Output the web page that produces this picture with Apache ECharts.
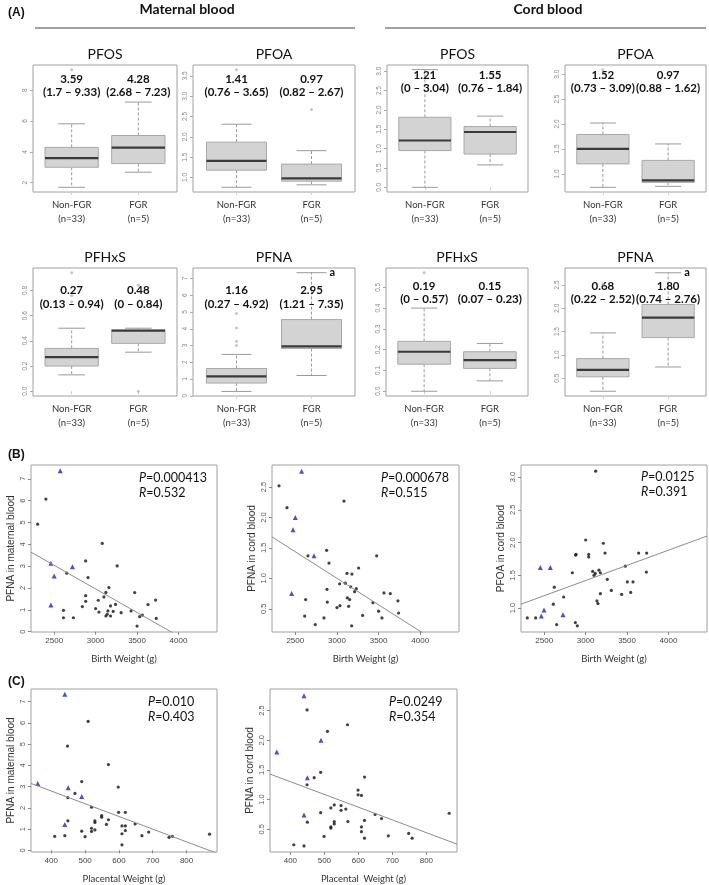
<!DOCTYPE html>
<html><head><meta charset="utf-8">
<script src="https://cdn.jsdelivr.net/npm/echarts@6/dist/echarts.min.js"></script>
<style>html,body{margin:0;padding:0;background:#fff}#c{width:709px;height:885px}</style>
</head><body><div id="c"></div>
<script>
// ---------- (A) box plots: [lower whisker, Q1, median, Q3, upper whisker] for Non-FGR, FGR ----------
const groupNames = ['Non-FGR\n(n=33)', 'FGR\n(n=5)'];

const matPFOS_box = [[1.7, 3.0, 3.59, 4.29, 5.82], [2.68, 3.24, 4.28, 5.06, 7.23]];
const matPFOS_out = [[1, 9.33]];
const matPFOS_txt = ['3.59', '(1.7 – 9.33)', '4.28', '(2.68 – 7.23)'];
const matPFOS_ticks = [2, 4, 6, 8];

const matPFOA_box = [[0.76, 1.18, 1.41, 1.87, 2.31], [0.82, 0.91, 0.98, 1.33, 1.66]];
const matPFOA_out = [[1, 3.65], [2, 2.67]];
const matPFOA_txt = ['1.41', '(0.76 – 3.65)', '0.97', '(0.82 – 2.67)'];
const matPFOA_ticks = [1.0, 1.5, 2.0, 2.5, 3.0, 3.5];

const cordPFOS_box = [[0, 0.95, 1.21, 1.81, 3.04], [0.58, 0.86, 1.43, 1.57, 1.84]];
const cordPFOS_out = [];
const cordPFOS_txt = ['1.21', '(0 – 3.04)', '1.55', '(0.76 – 1.84)'];
const cordPFOS_ticks = [0, 0.5, 1.0, 1.5, 2.0, 2.5, 3.0];

const cordPFOA_box = [[0.73, 1.20, 1.50, 1.79, 2.02], [0.75, 0.83, 0.87, 1.27, 1.60]];
const cordPFOA_out = [[1, 3.09]];
const cordPFOA_txt = ['1.52', '(0.73 – 3.09)', '0.97', '(0.88 – 1.62)'];
const cordPFOA_ticks = [1.0, 1.5, 2.0, 2.5, 3.0];

const matPFHxS_box = [[0.13, 0.20, 0.27, 0.34, 0.50], [0.31, 0.38, 0.48, 0.49, 0.50]];
const matPFHxS_out = [[1, 0.94], [1, 0.76], [1, 0.71], [2, 0], [2, 0.84]];
const matPFHxS_txt = ['0.27', '(0.13 – 0.94)', '0.48', '(0 – 0.84)'];
const matPFHxS_ticks = [0, 0.2, 0.4, 0.6, 0.8];

const matPFNA_box = [[0.26, 0.76, 1.16, 1.63, 2.47], [1.21, 2.82, 2.95, 4.55, 7.35]];
const matPFNA_out = [[1, 4.92], [1, 4.05], [1, 3.25], [1, 3.0]];
const matPFNA_txt = ['1.16', '(0.27 – 4.92)', '2.95', '(1.21 – 7.35)'];
const matPFNA_ticks = [0, 1, 2, 3, 4, 5, 6, 7];

const cordPFHxS_box = [[0, 0.13, 0.19, 0.24, 0.40], [0.05, 0.11, 0.15, 0.19, 0.23]];
const cordPFHxS_out = [[1, 0.57]];
const cordPFHxS_txt = ['0.19', '(0 – 0.57)', '0.15', '(0.07 – 0.23)'];
const cordPFHxS_ticks = [0, 0.1, 0.2, 0.3, 0.4, 0.5];

const cordPFNA_box = [[0.22, 0.53, 0.68, 0.92, 1.47], [0.74, 1.37, 1.80, 2.08, 2.76]];
const cordPFNA_out = [[1, 2.52]];
const cordPFNA_txt = ['0.68', '(0.22 – 2.52)', '1.80', '(0.74 – 2.76)'];
const cordPFNA_ticks = [0.5, 1.0, 1.5, 2.0, 2.5];

// ---------- (B) PFNA / PFOA vs birth weight ----------
const bwTicks = [2500, 3000, 3500, 4000];
const B1_nonFGR = [[2300,4.92],[2400,6.07],[2612,0.98],[2612,0.64],[2652,2.68],[2732,0.64],[2840,1.15],[2880,3.24],[2880,1.65],[2880,1.39],[2908,2.48],[3000,1.06],[3032,1.44],[3040,0.90],[3080,4.04],[3100,1.59],[3124,1.80],[3124,0.72],[3140,0.80],[3148,0.95],[3160,2.02],[3180,1.18],[3180,0.72],[3212,0.93],[3240,1.25],[3260,3.01],[3308,0.87],[3428,0.95],[3472,1.79],[3500,0.26],[3532,0.69],[3564,0.76],[3632,1.24],[3724,1.45],[3732,0.61]];
const B1_FGR = [[2572,7.37],[2460,3.13],[2500,2.55],[2720,2.97],[2460,1.22]];
const B1_fit = [[2220,3.64],[3908,0],[4000,-0.2]];
const B1_ticks = [0,1,2,3,4,5,6,7];

const B2_nonFGR = [[2304,2.52],[2400,2.16],[2652,1.37],[2624,0.65],[2612,0.38],[2740,0.24],[2844,0.35],[2876,1.46],[2904,1.25],[2880,0.82],[2884,0.61],[3000,0.52],[3036,0.55],[3032,0.91],[3084,2.27],[3100,0.92],[3120,1.08],[3124,0.68],[3140,0.54],[3152,0.65],[3164,0.86],[3180,1.07],[3176,0.22],[3212,0.78],[3232,0.83],[3260,1.17],[3308,0.39],[3432,0.60],[3476,1.37],[3500,0.46],[3540,0.35],[3564,0.76],[3640,0.75],[3732,0.63],[3740,0.43]];
const B2_FGR = [[2576,2.76],[2500,2.00],[2472,1.80],[2724,1.37],[2456,0.75]];
const B2_fit = [[2220,1.68],[4010,0.12],[4100,0.04]];
const B2_ticks = [0.5,1.0,1.5,2.0,2.5];

const B3_nonFGR = [[2296,0.85],[2397,0.85],[2622,1.32],[2610,1.06],[2650,0.75],[2735,1.17],[2840,1.54],[2880,1.81],[2884,1.82],[2876,0.78],[2900,0.73],[3001,2.04],[3037,1.82],[3037,1.78],[3085,1.56],[3101,1.50],[3121,3.09],[3117,1.53],[3137,1.11],[3149,1.07],[3161,1.58],[3178,1.54],[3178,1.22],[3214,1.99],[3234,1.84],[3262,1.44],[3310,1.27],[3435,1.21],[3479,1.64],[3503,1.40],[3544,1.24],[3572,1.40],[3640,1.84],[3737,1.84],[3733,1.55]];
const B3_FGR = [[2453,1.62],[2574,1.62],[2498,0.97],[2465,0.88],[2727,0.90]];
const B3_fit = [[2220,1.06],[4465,2.10]];
const B3_ticks = [1.0,1.5,2.0,2.5,3.0];

// ---------- (C) PFNA vs placental weight ----------
const pwTicks = [400, 500, 600, 700, 800];
const C1_nonFGR = [[410,0.66],[440,0.69],[448,4.91],[449,2.48],[449,1.39],[470,2.68],[490,3.24],[490,0.90],[500,0.64],[509,6.07],[519,2.03],[519,1.04],[519,0.89],[529,1.39],[529,1.31],[529,0.96],[549,1.64],[549,1.56],[563,1.22],[569,4.04],[569,1.44],[598,2.98],[599,1.79],[609,1.15],[609,0.78],[609,0.26],[619,1.79],[619,1.15],[619,0.93],[648,1.24],[668,0.69],[688,0.86],[748,0.61],[758,0.66],[868,0.76]];
const C1_FGR = [[440,7.35],[360,3.15],[450,2.95],[490,2.54],[440,1.21]];
const C1_fit = [[340,3.15],[890,-0.14]];
const C1_ticks = [0,1,2,3,4,5,6,7];

const C2_nonFGR = [[410,0.24],[440,0.22],[449,2.51],[449,1.25],[450,0.62],[470,1.37],[489,1.46],[489,0.78],[499,0.38],[509,2.15],[519,0.86],[519,0.54],[519,0.52],[529,0.91],[529,0.63],[529,0.59],[549,0.90],[549,0.82],[563,0.84],[568,2.26],[569,0.63],[599,1.16],[599,1.08],[609,1.07],[609,0.54],[609,0.46],[618,1.38],[618,0.65],[618,0.35],[649,0.75],[668,0.68],[688,0.39],[748,0.43],[758,0.35],[867,0.77]];
const C2_FGR = [[440,2.75],[360,1.80],[490,2.00],[450,1.37],[440,0.74]];
const C2_fit = [[340,1.43],[890,0.25]];
const C2_ticks = [0.5,1.0,1.5,2.0,2.5];

// ---------- layout ----------
const boxPanels = [
  {title:'PFOS',  box:matPFOS_box,  out:matPFOS_out,  txt:matPFOS_txt,  ticks:matPFOS_ticks,  dec:0, ylim:[1.395,9.635],  pos:[33,65,144,127],  tOff:[14,27]},
  {title:'PFOA',  box:matPFOA_box,  out:matPFOA_out,  txt:matPFOA_txt,  ticks:matPFOA_ticks,  dec:1, ylim:[0.644,3.766],  pos:[193,65,162,127], tOff:[14,27]},
  {title:'PFOS',  box:cordPFOS_box, out:cordPFOS_out, txt:cordPFOS_txt, ticks:cordPFOS_ticks, dec:1, ylim:[-0.12,3.16],   pos:[387,65,141,127], tOff:[10,23]},
  {title:'PFOA',  box:cordPFOA_box, out:cordPFOA_out, txt:cordPFOA_txt, ticks:cordPFOA_ticks, dec:1, ylim:[0.636,3.184],  pos:[565,65,141,127], tOff:[10,23]},
  {title:'PFHxS', box:matPFHxS_box, out:matPFHxS_out, txt:matPFHxS_txt, ticks:matPFHxS_ticks, dec:1, ylim:[-0.0376,0.9776], pos:[33,268,144,128], tOff:[22,36]},
  {title:'PFNA',  box:matPFNA_box,  out:matPFNA_out,  txt:matPFNA_txt,  ticks:matPFNA_ticks,  dec:0, ylim:[-0.013,7.63],  pos:[193,268,162,128], tOff:[22,36], mark:true},
  {title:'PFHxS', box:cordPFHxS_box,out:cordPFHxS_out,txt:cordPFHxS_txt,ticks:cordPFHxS_ticks,dec:1, ylim:[-0.0228,0.5928], pos:[386,268,142,128], tOff:[18,31]},
  {title:'PFNA',  box:cordPFNA_box, out:cordPFNA_out, txt:cordPFNA_txt, ticks:cordPFNA_ticks, dec:1, ylim:[0.118,2.862],  pos:[565,268,141,128], tOff:[18,31], mark:true}
];

const scatterPanels = [
  {black:B1_nonFGR, blue:B1_FGR, fit:B1_fit, xt:bwTicks, yt:B1_ticks, dec:0, xlim:[2220,4465], ylim:[-0.013,7.63], pos:[31,465,186,167], xName:'Birth Weight (g)', yName:'PFNA in maternal blood', p:'=0.000413', r:'=0.532', pr:[139,478]},
  {black:B2_nonFGR, blue:B2_FGR, fit:B2_fit, xt:bwTicks, yt:B2_ticks, dec:1, xlim:[2220,4465], ylim:[0.118,2.862], pos:[272,465,187,167], xName:'Birth Weight (g)', yName:'PFNA in cord blood', p:'=0.000678', r:'=0.515', pr:[381,478]},
  {black:B3_nonFGR, blue:B3_FGR, fit:B3_fit, xt:bwTicks, yt:B3_ticks, dec:1, xlim:[2220,4465], ylim:[0.636,3.184], pos:[521,465,186,167], xName:'Birth Weight (g)', yName:'PFOA in cord blood', p:'=0.0125', r:'=0.391', pr:[641,477]},
  {black:C1_nonFGR, blue:C1_FGR, fit:C1_fit, xt:pwTicks, yt:C1_ticks, dec:0, xlim:[340,890], ylim:[-0.08,7.6], pos:[31,689,186,166], xName:'Placental Weight (g)', yName:'PFNA in maternal blood', p:'=0.010', r:'=0.403', pr:[148,702]},
  {black:C2_nonFGR, blue:C2_FGR, fit:C2_fit, xt:pwTicks, yt:C2_ticks, dec:1, xlim:[340,890], ylim:[0.118,2.862], pos:[270,689,187,166], xName:'Placental  Weight (g)', yName:'PFNA in cord blood', p:'=0.0249', r:'=0.354', pr:[389,702]}
];

const grids = [], xAxes = [], yAxes = [], series = [], graphics = [];

function makeBox(p) {
  return function (params, api) {
    const k = params.dataIndex;
    const cat = api.value(0);
    const y = (v) => api.coord([cat, v])[1];
    const x = api.coord([cat, api.value(3)])[0];
    const hw = api.size([0.4, 0])[0];
    const sw = api.size([0.2, 0])[0];
    const lo = y(api.value(1)), q1 = y(api.value(2)), md = y(api.value(3)), q3 = y(api.value(4)), hi = y(api.value(5));
    const cs = params.coordSys;
    const wh = {stroke:'#9a9a9a', lineWidth:1, lineDash:[3,2]};
    const st = {stroke:'#9a9a9a', lineWidth:1};
    const children = [
      {type:'line', shape:{x1:x, y1:q1, x2:x, y2:lo}, style:wh},
      {type:'line', shape:{x1:x, y1:q3, x2:x, y2:hi}, style:wh},
      {type:'line', shape:{x1:x-sw, y1:lo, x2:x+sw, y2:lo}, style:st},
      {type:'line', shape:{x1:x-sw, y1:hi, x2:x+sw, y2:hi}, style:st},
      {type:'rect', shape:{x:x-hw, y:q3, width:2*hw, height:q1-q3}, style:{fill:'#d3d3d3', stroke:'#a8a8a8', lineWidth:1}},
      {type:'line', shape:{x1:x-hw, y1:md, x2:x+hw, y2:md}, style:{stroke:'#3a3a3a', lineWidth:2.2}},
      {type:'text', z2:10, style:{text:p.txt[k*2], x:x, y:cs.y+p.tOff[0], align:'center', verticalAlign:'middle', font:'bold 11.5px Lato', fill:'#111'}},
      {type:'text', z2:10, style:{text:p.txt[k*2+1], x:x, y:cs.y+p.tOff[1], align:'center', verticalAlign:'middle', font:'bold 11.5px Lato', fill:'#111'}}
    ];
    if (p.mark && k === 1) {
      children.push({type:'text', style:{text:'a', x:x+sw+3, y:hi, align:'left', verticalAlign:'middle', font:'bold 11px Lato', fill:'#111'}});
    }
    return {type:'group', children};
  };
}

boxPanels.forEach((p, i) => {
  grids.push({left:p.pos[0], top:p.pos[1], width:p.pos[2], height:p.pos[3], show:true, borderColor:'#a0a0a0', borderWidth:1});
  xAxes.push({gridIndex:i, type:'value', min:0.42, max:2.58,
    axisLine:{show:false}, splitLine:{show:false},
    axisTick:{show:true, customValues:[1,2], length:3, lineStyle:{color:'#d0d0d0'}},
    axisLabel:{customValues:[1,2], formatter:(v)=> (Math.round(v)===1 ? groupNames[0] : groupNames[1]), margin:6, fontFamily:'Lato', fontSize:9.5, lineHeight:14, color:'#333'}});
  yAxes.push({gridIndex:i, type:'value', min:p.ylim[0], max:p.ylim[1],
    axisLine:{show:false}, splitLine:{show:false},
    axisTick:{show:true, customValues:p.ticks, length:3, lineStyle:{color:'#aaa'}},
    axisLabel:{customValues:p.ticks, rotate:90, formatter:(v)=>Number(v).toFixed(p.dec), fontSize:6.5, color:'#888', margin:4}});
  series.push({type:'custom', xAxisIndex:i, yAxisIndex:i, silent:true, clip:false,
    data:p.box.map((b,k)=>[k+1].concat(b)), encode:{x:0, y:[1,2,3,4,5]}, renderItem:makeBox(p)});
  series.push({type:'scatter', xAxisIndex:i, yAxisIndex:i, silent:true, data:p.out, symbol:'circle', symbolSize:3, itemStyle:{color:'#b5b5b5'}});
  graphics.push({type:'text', x:p.pos[0]+p.pos[2]/2, y:p.pos[1]-11, style:{text:p.title, align:'center', verticalAlign:'middle', font:'14px Lato', fill:'#111'}});
});

scatterPanels.forEach((p, j) => {
  const i = boxPanels.length + j;
  grids.push({left:p.pos[0], top:p.pos[1], width:p.pos[2], height:p.pos[3], show:true, borderColor:'#a0a0a0', borderWidth:1});
  xAxes.push({gridIndex:i, type:'value', min:p.xlim[0], max:p.xlim[1],
    axisLine:{show:false}, splitLine:{show:false},
    axisTick:{show:true, customValues:p.xt, length:3, lineStyle:{color:'#888'}},
    axisLabel:{customValues:p.xt, formatter:(v)=>String(v), fontSize:8, color:'#444', margin:5},
    name:p.xName, nameLocation:'middle', nameGap:22, nameTextStyle:{fontFamily:'Lato', fontSize:9.5, color:'#333'}});
  yAxes.push({gridIndex:i, type:'value', min:p.ylim[0], max:p.ylim[1],
    axisLine:{show:false}, splitLine:{show:false},
    axisTick:{show:true, customValues:p.yt, length:3, lineStyle:{color:'#888'}},
    axisLabel:{customValues:p.yt, rotate:90, formatter:(v)=>Number(v).toFixed(p.dec), fontSize:7.5, color:'#555', margin:4},
    name:p.yName, nameLocation:'middle', nameGap:15, nameTextStyle:{fontSize:10, color:'#333'}});
  series.push({type:'line', xAxisIndex:i, yAxisIndex:i, data:p.fit, symbol:'none', silent:true, clip:true, lineStyle:{color:'#8c8c8c', width:1}});
  series.push({type:'scatter', xAxisIndex:i, yAxisIndex:i, data:p.black, symbol:'circle', symbolSize:3.2, silent:true, itemStyle:{color:'#111'}});
  series.push({type:'scatter', xAxisIndex:i, yAxisIndex:i, data:p.blue, symbol:'triangle', symbolSize:5, silent:true, itemStyle:{color:'#2222c4'}});
  const rich = {i:{fontStyle:'italic', fontFamily:'Lato', fontSize:12.5, color:'#111'}, n:{fontFamily:'Lato', fontSize:12.5, color:'#111'}};
  graphics.push({type:'text', x:p.pr[0], y:p.pr[1], style:{text:'{i|P}{n|'+p.p+'}', rich:rich, verticalAlign:'middle', font:'12.5px Lato', fill:'#111'}});
  graphics.push({type:'text', x:p.pr[0], y:p.pr[1]+15, style:{text:'{i|R}{n|'+p.r+'}', rich:rich, verticalAlign:'middle', font:'12.5px Lato', fill:'#111'}});
});

// headers and panel letters
graphics.push(
  {type:'text', x:8, y:13, style:{text:'(A)', verticalAlign:'middle', font:'bold 12px "Liberation Sans"', fill:'#111'}},
  {type:'text', x:187, y:9, style:{text:'Maternal blood', align:'center', verticalAlign:'middle', font:'bold 14px Lato', fill:'#111'}},
  {type:'text', x:548, y:9, style:{text:'Cord blood', align:'center', verticalAlign:'middle', font:'bold 14px Lato', fill:'#111'}},
  {type:'line', shape:{x1:35, y1:28, x2:355, y2:28}, style:{stroke:'#444', lineWidth:1}},
  {type:'line', shape:{x1:385, y1:28, x2:706, y2:28}, style:{stroke:'#444', lineWidth:1}},
  {type:'text', x:8, y:455, style:{text:'(B)', verticalAlign:'middle', font:'bold 12px "Liberation Sans"', fill:'#111'}},
  {type:'text', x:8, y:682, style:{text:'(C)', verticalAlign:'middle', font:'bold 12px "Liberation Sans"', fill:'#111'}}
);

const chart = echarts.init(document.getElementById('c'));
chart.setOption({
  animation:false,
  backgroundColor:'#fff',
  textStyle:{fontFamily:'"Liberation Sans", Arial, sans-serif'},
  grid:grids, xAxis:xAxes, yAxis:yAxes, series:series, graphic:graphics
});
</script></body></html>
